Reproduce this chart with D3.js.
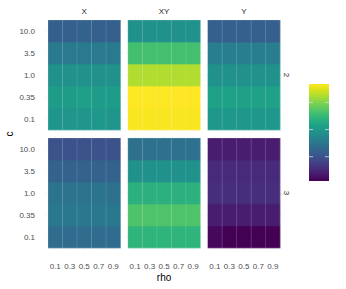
<!DOCTYPE html>
<html>
<head>
<meta charset="utf-8">
<script src="https://cdn.jsdelivr.net/npm/d3@7"></script>
<style>
  body { margin: 0; background: #fff; }
  text { font-family: "Liberation Sans", Arial, sans-serif; }
</style>
</head>
<body>
<div id="chart"></div>
<script>
var width = 346
var height = 289

// facets and axes
var colFacets = ['X', 'XY', 'Y']
var rowFacets = ['2', '3']
var rho = [0.1, 0.3, 0.5, 0.7, 0.9]
var rhoTicks = ['0.1', '0.3', '0.5', '0.7', '0.9']
var cLevels = ['0.1', '0.35', '1.0', '3.5', '10.0']   // bottom to top

// fill values, one row per c level (0.1 ... 10.0), one entry per rho
var row2X = [
  [0.52, 0.52, 0.52, 0.53, 0.52],
  [0.55, 0.55, 0.56, 0.55, 0.55],
  [0.50, 0.50, 0.50, 0.50, 0.50],
  [0.41, 0.41, 0.41, 0.41, 0.41],
  [0.30, 0.30, 0.31, 0.30, 0.30]
]
var row2XY = [
  [0.99, 0.99, 0.99, 0.99, 0.99],
  [1.00, 1.00, 1.00, 1.00, 1.00],
  [0.88, 0.88, 0.88, 0.88, 0.88],
  [0.70, 0.70, 0.70, 0.70, 0.70],
  [0.50, 0.50, 0.50, 0.50, 0.50]
]
var row2Y = [
  [0.53, 0.53, 0.53, 0.53, 0.53],
  [0.57, 0.57, 0.57, 0.57, 0.57],
  [0.50, 0.50, 0.50, 0.50, 0.50],
  [0.42, 0.42, 0.42, 0.42, 0.42],
  [0.30, 0.30, 0.30, 0.30, 0.30]
]
var row3X = [
  [0.35, 0.35, 0.35, 0.35, 0.35],
  [0.40, 0.40, 0.40, 0.40, 0.40],
  [0.38, 0.38, 0.38, 0.38, 0.37],
  [0.31, 0.31, 0.31, 0.31, 0.31],
  [0.25, 0.25, 0.25, 0.25, 0.25]
]
var row3XY = [
  [0.65, 0.65, 0.65, 0.65, 0.65],
  [0.72, 0.72, 0.72, 0.72, 0.72],
  [0.64, 0.64, 0.64, 0.64, 0.64],
  [0.50, 0.50, 0.50, 0.50, 0.50],
  [0.37, 0.37, 0.37, 0.37, 0.37]
]
var row3Y = [
  [0.02, 0.00, 0.00, 0.00, 0.00],
  [0.08, 0.08, 0.08, 0.08, 0.08],
  [0.13, 0.13, 0.13, 0.13, 0.13],
  [0.12, 0.12, 0.12, 0.12, 0.12],
  [0.08, 0.08, 0.08, 0.08, 0.08]
]
var panelValues = {
  '2': { X: row2X, XY: row2XY, Y: row2Y },
  '3': { X: row3X, XY: row3XY, Y: row3Y }
}
var legendTicks = [0.25, 0.53, 0.81]

var margin = { left: 48, top: 20 }
var panelW = 72.5
var panelH = 110
var gapX = 7.3
var gapY = 8

var svg = d3.select('#chart').append('svg')
  .attr('width', width)
  .attr('height', height)

var color = d3.scaleSequential(d3.interpolateViridis).domain([0, 1])

var x = d3.scaleLinear().domain([0, 1]).range([0, panelW])
var y = d3.scaleBand().domain(cLevels.slice().reverse()).range([0, panelH])

var tickColor = '#4d4d4d'
var fs = 8

rowFacets.forEach((rf, ri) => {
  colFacets.forEach((cf, ci) => {
    var px = margin.left + ci * (panelW + gapX)
    var py = margin.top + ri * (panelH + gapY)
    var g = svg.append('g').attr('transform', 'translate(' + px + ',' + py + ')')

    // grid lines (theme_minimal), peek out a little past the tiles
    g.selectAll('line.vgrid')
      .data(rho)
      .enter().append('line')
      .attr('x1', d => x(d)).attr('x2', d => x(d))
      .attr('y1', -2).attr('y2', panelH + 2)
      .attr('stroke', '#ebebeb').attr('stroke-width', 0.6)
    g.selectAll('line.hgrid')
      .data(cLevels)
      .enter().append('line')
      .attr('y1', d => y(d) + y.bandwidth() / 2).attr('y2', d => y(d) + y.bandwidth() / 2)
      .attr('x1', -2).attr('x2', panelW + 2)
      .attr('stroke', '#ebebeb').attr('stroke-width', 0.6)

    var cells = []
    panelValues[rf][cf].forEach((row, k) => {
      row.forEach((v, j) => cells.push({ c: cLevels[k], rho: rho[j], v: v }))
    })

    g.selectAll('rect.tile')
      .data(cells)
      .enter().append('rect')
      .attr('class', 'tile')
      .attr('x', d => x(d.rho - 0.1))
      .attr('y', d => y(d.c))
      .attr('width', x(0.2) - x(0) + 0.3)
      .attr('height', y.bandwidth() + 0.3)
      .attr('fill', d => color(d.v))

    // faint column seams between tiles
    g.selectAll('line.seam')
      .data([0.2, 0.4, 0.6, 0.8])
      .enter().append('line')
      .attr('x1', d => x(d)).attr('x2', d => x(d))
      .attr('y1', 0).attr('y2', panelH)
      .attr('stroke', 'rgba(255,255,255,0.16)').attr('stroke-width', 0.8)
    g.append('rect')
      .attr('x', 0).attr('y', 0)
      .attr('width', panelW).attr('height', panelH)
      .attr('fill', 'none')
      .attr('stroke', 'rgba(255,255,255,0.25)').attr('stroke-width', 0.8)

    // strip labels on top
    if (ri === 0) {
      svg.append('text')
        .attr('x', px + panelW / 2).attr('y', margin.top - 6)
        .attr('text-anchor', 'middle')
        .attr('font-size', fs).attr('fill', '#1a1a1a')
        .text(cf)
    }
    // y tick labels on the first column
    if (ci === 0) {
      g.selectAll('text.ytick')
        .data(cLevels)
        .enter().append('text')
        .attr('x', -13)
        .attr('y', d => y(d) + y.bandwidth() / 2)
        .attr('dy', '0.35em')
        .attr('text-anchor', 'end')
        .attr('font-size', fs).attr('fill', tickColor)
        .text(d => d)
    }
    // x tick labels on the bottom row
    if (ri === rowFacets.length - 1) {
      g.selectAll('text.xtick')
        .data(rho)
        .enter().append('text')
        .attr('x', d => x(d))
        .attr('y', panelH + 21)
        .attr('text-anchor', 'middle')
        .attr('font-size', fs).attr('fill', tickColor)
        .text((d, i) => rhoTicks[i])
    }
    // right strip labels
    if (ci === colFacets.length - 1) {
      var sx = px + panelW + 7
      var sy = py + panelH / 2
      svg.append('text')
        .attr('transform', 'translate(' + sx + ',' + sy + ') rotate(90)')
        .attr('text-anchor', 'middle')
        .attr('dy', '0.35em')
        .attr('font-size', fs).attr('fill', '#1a1a1a')
        .text(rf)
    }
  })
})

// axis titles
var plotMidX = margin.left + (3 * panelW + 2 * gapX) / 2
svg.append('text')
  .attr('x', plotMidX).attr('y', 281)
  .attr('text-anchor', 'middle')
  .attr('font-size', 10).attr('fill', '#000')
  .text('rho')
var plotMidY = margin.top + (2 * panelH + gapY) / 2
svg.append('text')
  .attr('transform', 'translate(13,' + plotMidY + ') rotate(-90)')
  .attr('text-anchor', 'middle')
  .attr('font-size', 10).attr('fill', '#000')
  .text('c')

// colour bar legend
var barX = 309, barY = 84, barW = 20, barH = 97
var defs = svg.append('defs')
var grad = defs.append('linearGradient')
  .attr('id', 'vgrad')
  .attr('x1', 0).attr('y1', 1).attr('x2', 0).attr('y2', 0)
d3.range(0, 1.0001, 0.05).forEach(t => {
  grad.append('stop').attr('offset', t).attr('stop-color', color(t))
})
svg.append('rect')
  .attr('x', barX).attr('y', barY)
  .attr('width', barW).attr('height', barH)
  .attr('fill', 'url(#vgrad)')

var legendScale = d3.scaleLinear().domain([0, 1]).range([barY + barH, barY])
legendTicks.forEach(t => {
  var ty = legendScale(t)
  svg.append('line')
    .attr('x1', barX).attr('x2', barX + 4)
    .attr('y1', ty).attr('y2', ty)
    .attr('stroke', '#dddddd').attr('stroke-width', 0.8)
  svg.append('line')
    .attr('x1', barX + barW - 4).attr('x2', barX + barW)
    .attr('y1', ty).attr('y2', ty)
    .attr('stroke', '#dddddd').attr('stroke-width', 0.8)
})
</script>
</body>
</html>
